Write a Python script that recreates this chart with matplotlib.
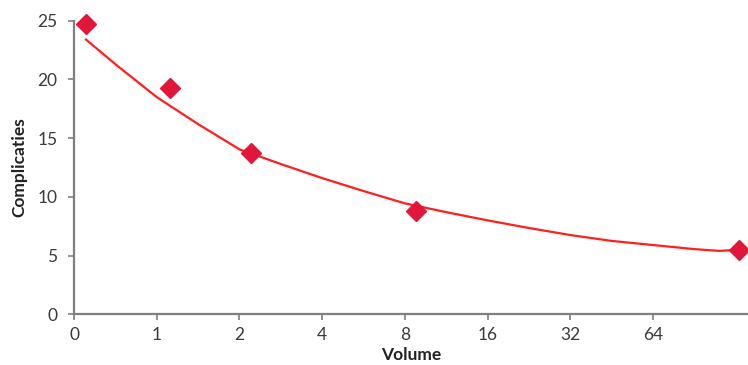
import matplotlib.pyplot as plt

plt.rcParams.update({
    "font.family": ["Lato", "DejaVu Sans"],
    "axes.spines.top": False,
    "axes.spines.right": False,
})

# tick categories (equally spaced, doubling volume)
volume_labels = ["0", "1", "2", "4", "8", "16", "32", "64"]

# observed points (x as position on the doubling axis)
pts_x = [0.145, 1.16, 2.14, 4.14, 8.04]
pts_y = [24.7, 19.3, 13.7, 8.8, 5.48]

# fitted curve
fit_x = [0.145, 0.5, 1.0, 1.5, 2.0, 2.5, 3.0, 3.5, 4.0, 4.5, 5.0, 5.5, 6.0, 6.5, 7.0, 7.5, 7.8, 8.0]
fit_y = [23.4, 21.3, 18.5, 16.2, 14.05, 12.8, 11.6, 10.5, 9.45, 8.7, 8.0, 7.35, 6.75, 6.25, 5.9, 5.55, 5.4, 5.48]

GREY = "#7f7f7f"

fig = plt.figure(figsize=(7.48, 3.65), dpi=100)
ax = fig.add_axes([0.099, 0.139, 0.901, 0.804])

ax.plot(fit_x, fit_y, color="#ff1f1f", lw=1.6, zorder=2)
ax.plot(pts_x, pts_y, linestyle="none", marker="D", markersize=10,
        color="#e0173a", clip_on=False, zorder=3)

ax.set_xlim(0, 8.15)
ax.set_ylim(0, 25)
ax.set_xticks(range(len(volume_labels)))
ax.set_xticklabels(volume_labels)
ax.set_yticks([0, 5, 10, 15, 20, 25])

for s in ["left", "bottom"]:
    ax.spines[s].set_color(GREY)
    ax.spines[s].set_linewidth(1.6)
ax.tick_params(axis="both", colors=GREY, length=4, width=1.2,
               labelsize=12.5, labelcolor="#3a3a3a")
ax.tick_params(axis="x", pad=5)
ax.tick_params(axis="y", pad=8)

ax.set_xlabel("Volume", fontsize=12.5, fontweight="bold", color="#222222", labelpad=3)
ax.set_ylabel("Complicaties", fontsize=12.5, fontweight="bold", color="#222222", labelpad=7)

plt.savefig("out.png", dpi=100)
